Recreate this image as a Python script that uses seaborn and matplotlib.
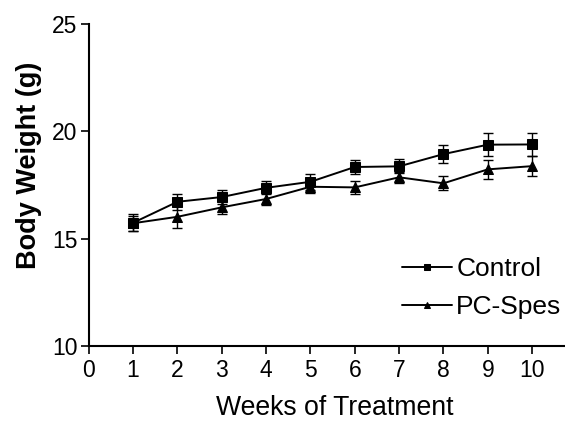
import matplotlib
matplotlib.use("Agg")
import matplotlib.pyplot as plt
import seaborn as sns
import pandas as pd

weeks = [1, 2, 3, 4, 5, 6, 7, 8, 9, 10]
control = [15.74, 16.72, 16.94, 17.37, 17.65, 18.34, 18.37, 18.94, 19.38, 19.39]
control_err = [0.40, 0.36, 0.34, 0.30, 0.36, 0.32, 0.32, 0.42, 0.54, 0.52]
pcspes = [15.72, 16.02, 16.46, 16.85, 17.42, 17.39, 17.86, 17.58, 18.23, 18.38]
pcspes_err = [0.35, 0.50, 0.30, 0.29, 0.30, 0.30, 0.26, 0.33, 0.45, 0.47]
xticks = list(range(0, 11))
yticks = [10, 15, 20, 25]

sns.set_style("ticks")
plt.rcParams['font.family'] = ['Liberation Sans', 'DejaVu Sans']
plt.rcParams.update({
    "text.color": "black", "axes.labelcolor": "black",
    "xtick.color": "black", "ytick.color": "black",
    "xtick.labelcolor": "black", "ytick.labelcolor": "black",
})

df = pd.DataFrame({
    "week": weeks * 2,
    "weight": control + pcspes,
    "group": ["Control"] * len(weeks) + ["PC-Spes"] * len(weeks),
})

fig = plt.figure(figsize=(5.65, 4.21), dpi=100)
ax = fig.add_axes([0.157, 0.178, 0.843, 0.765])

for vals, errs in ((control, control_err), (pcspes, pcspes_err)):
    ax.errorbar(weeks, vals, yerr=errs, fmt='none', ecolor='black',
                elinewidth=1.0, capsize=3.5, capthick=1.0, zorder=2)

sns.lineplot(data=df, x="week", y="weight", hue="group", style="group",
             markers={"Control": "s", "PC-Spes": "^"}, dashes=False,
             palette={"Control": "black", "PC-Spes": "black"},
             markersize=7.5, markeredgecolor="black", linewidth=1.4,
             ax=ax, zorder=3)

ax.set_xlim(0, 10.74)
ax.set_ylim(10, 25)
ax.set_xticks(xticks)
ax.set_yticks(yticks)
ax.tick_params(axis='both', labelsize=16.5, length=5.5, width=1.2, color='black',
               labelcolor='black', direction='out', pad=2.5)
ax.tick_params(axis='x', pad=4)
for s in ("left", "bottom"):
    ax.spines[s].set_linewidth(1.5)
    ax.spines[s].set_color("black")
sns.despine(ax=ax)
ax.set_xlabel("Weeks of Treatment", fontsize=19.2, color='black')
ax.set_ylabel("Body Weight (g)", fontsize=19.5, fontweight='bold', color='black')
ax.xaxis.set_label_coords(0.517, -0.152)
ax.yaxis.set_label_coords(-0.099, 0.56)

leg = ax.legend(title=None, loc="lower right", bbox_to_anchor=(1.015, 0.05), frameon=False,
                fontsize=19, handlelength=1.9, handletextpad=0.15, labelspacing=0.53,
                borderaxespad=0.0, markerscale=0.65)
for t in leg.get_texts():
    t.set_color('black')

fig.savefig("out.png", dpi=100)
